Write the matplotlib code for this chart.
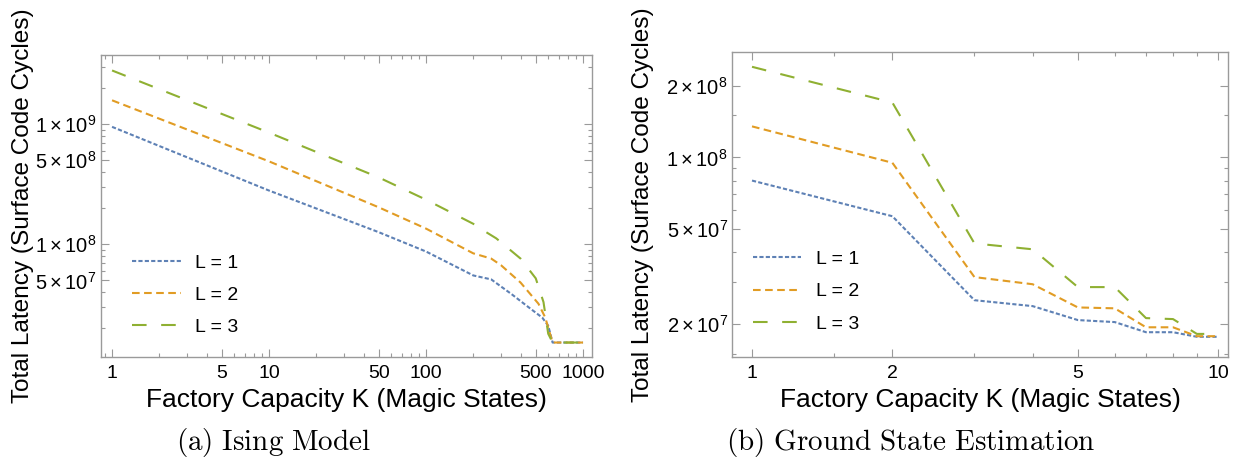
import numpy as np
import matplotlib
matplotlib.use('Agg')
import matplotlib.pyplot as plt
from matplotlib.ticker import FixedLocator, FixedFormatter, NullFormatter

plt.rcParams['font.family'] = ['Liberation Sans', 'DejaVu Sans']
plt.rcParams['mathtext.fontset'] = 'custom'
plt.rcParams['mathtext.rm'] = 'Liberation Sans'
plt.rcParams['mathtext.it'] = 'Liberation Sans:italic'
plt.rcParams['lines.scale_dashes'] = False

# ---- (a) Ising Model ----
k_ising = [1, 10, 50, 100, 200, 260, 350, 450, 550, 600, 640, 1000]
ising_l1 = [9.5e8, 2.8e8, 1.26e8, 8.7e7, 5.5e7, 5.1e7, 3.85e7, 2.99e7, 2.45e7, 2.1e7, 1.52e7, 1.52e7]

k_ising2 = [1, 10, 50, 100, 200, 260, 300, 400, 520, 575, 640, 1000]
ising_l2 = [1.58e9, 4.9e8, 2.03e8, 1.35e8, 8.4e7, 7.6e7, 6.7e7, 4.8e7, 3.2e7, 2.45e7, 1.52e7, 1.52e7]

k_ising3 = [1, 10, 50, 100, 200, 220, 280, 400, 500, 560, 600, 640, 1000]
ising_l3 = [2.8e9, 8.5e8, 3.6e8, 2.35e8, 1.48e8, 1.36e8, 1.12e8, 7.6e7, 5.2e7, 3.3e7, 1.8e7, 1.52e7, 1.52e7]

# ---- (b) Ground State Estimation ----
k_gse = [1, 2, 3, 4, 5, 6, 7, 8, 9, 10]
gse_l1 = [8.0e7, 5.67e7, 2.52e7, 2.38e7, 2.08e7, 2.04e7, 1.85e7, 1.85e7, 1.77e7, 1.77e7]
gse_l2 = [1.35e8, 9.5e7, 3.15e7, 2.94e7, 2.35e7, 2.33e7, 1.94e7, 1.94e7, 1.78e7, 1.78e7]
gse_l3 = [2.4e8, 1.7e8, 4.36e7, 4.12e7, 2.86e7, 2.86e7, 2.12e7, 2.1e7, 1.82e7, 1.82e7]

labels = ['L = 1', 'L = 2', 'L = 3']
colors = ['#5E81B5', '#E19C24', '#8FB032']
dashes = [(0, (3.0, 1.6)), (0, (5.5, 3.2)), (0, (10.5, 10.5))]

xlabel = 'Factory Capacity K (Magic States)'
ylabel = 'Total Latency (Surface Code Cycles)'
frame_col = '#9a9a9a'


def style_axis(ax, xmaj, xlab, xmin, ymaj, ylab, ymin, ylab_x):
    ax.set_xscale('log')
    ax.set_yscale('log')
    ax.xaxis.set_major_locator(FixedLocator(xmaj))
    ax.xaxis.set_major_formatter(FixedFormatter(xlab))
    ax.xaxis.set_minor_locator(FixedLocator(xmin))
    ax.xaxis.set_minor_formatter(NullFormatter())
    ax.yaxis.set_major_locator(FixedLocator(ymaj))
    ax.yaxis.set_major_formatter(FixedFormatter(ylab))
    ax.yaxis.set_minor_locator(FixedLocator(ymin))
    ax.yaxis.set_minor_formatter(NullFormatter())
    for s in ax.spines.values():
        s.set_color(frame_col)
        s.set_linewidth(1.0)
    ax.tick_params(which='both', direction='in', top=True, right=True,
                   color=frame_col, width=0.8)
    ax.tick_params(which='major', length=5.5)
    ax.tick_params(which='minor', length=3)
    ax.tick_params(axis='x', which='major', labelsize=14, pad=6)
    ax.tick_params(axis='y', which='major', labelsize=14.5, pad=3)
    ax.set_xlabel(xlabel, fontsize=19, labelpad=4)
    ax.set_ylabel(ylabel, fontsize=17.6)
    ax.yaxis.set_label_coords(ylab_x, 0.5)


def minors(decades, subs):
    return [s * 10.0 ** d for d in decades for s in subs]


fig = plt.figure(figsize=(12.33, 4.68), dpi=100)

# ----- left panel -----
ax1 = fig.add_axes([0.0819, 0.237, 0.3982, 0.6453])
ax1.plot(k_ising, ising_l1, color=colors[0], linestyle=dashes[0], lw=1.5, dash_capstyle='butt', label=labels[0])
ax1.plot(k_ising2, ising_l2, color=colors[1], linestyle=dashes[1], lw=1.5, dash_capstyle='butt', label=labels[1])
ax1.plot(k_ising3, ising_l3, color=colors[2], linestyle=dashes[2], lw=1.5, dash_capstyle='butt', label=labels[2])
ax1.set_xlim(0.85, 1140)
ax1.set_ylim(1.15e7, 3.76e9)
style_axis(ax1,
           [1, 5, 10, 50, 100, 500, 1000], ['1', '5', '10', '50', '100', '500', '1000'],
           [0.9] + minors([0, 1, 2], [2, 3, 4, 6, 7, 8, 9]),
           [5e7, 1e8, 5e8, 1e9],
           [r'$5\times10^{7}$', r'$1\times10^{8}$', r'$5\times10^{8}$', r'$1\times10^{9}$'],
           minors([7, 8, 9], [2, 3, 4, 6, 7, 8, 9]), -0.136)
ax1.legend(loc='lower left', bbox_to_anchor=(0.063, 0.07), frameon=False, fontsize=14,
           handlelength=2.5, handletextpad=0.75, labelspacing=0.75,
           borderpad=0, borderaxespad=0)

# ----- right panel -----
ax2 = fig.add_axes([0.5937, 0.237, 0.4023, 0.652])
ax2.plot(k_gse, gse_l1, color=colors[0], linestyle=dashes[0], lw=1.5, dash_capstyle='butt', label=labels[0])
ax2.plot(k_gse, gse_l2, color=colors[1], linestyle=dashes[1], lw=1.5, dash_capstyle='butt', label=labels[1])
ax2.plot(k_gse, gse_l3, color=colors[2], linestyle=dashes[2], lw=1.5, dash_capstyle='butt', label=labels[2])
ax2.set_xlim(0.906, 10.5)
ax2.set_ylim(1.455e7, 2.77e8)
style_axis(ax2,
           [1, 2, 5, 10], ['1', '2', '5', '10'],
           [1.5, 3, 4, 6, 7, 8, 9],
           [2e7, 5e7, 1e8, 2e8],
           [r'$2\times10^{7}$', r'$5\times10^{7}$', r'$1\times10^{8}$', r'$2\times10^{8}$'],
           [1.5e7, 3e7, 4e7, 6e7, 7e7, 8e7, 9e7, 1.5e8], -0.158)
ax2.legend(loc='lower left', bbox_to_anchor=(0.042, 0.08), frameon=False, fontsize=14,
           handlelength=2.5, handletextpad=0.75, labelspacing=0.75,
           borderpad=0, borderaxespad=0)

# captions
fig.text(0.222, 0.055, r'$\mathrm{(a)\ Ising\ Model}$', ha='center', va='center',
         fontsize=21, math_fontfamily='cm')
fig.text(0.739, 0.055, r'$\mathrm{(b)\ Ground\ State\ Estimation}$', ha='center', va='center',
         fontsize=21, math_fontfamily='cm')

plt.savefig('out.png', dpi=100)
